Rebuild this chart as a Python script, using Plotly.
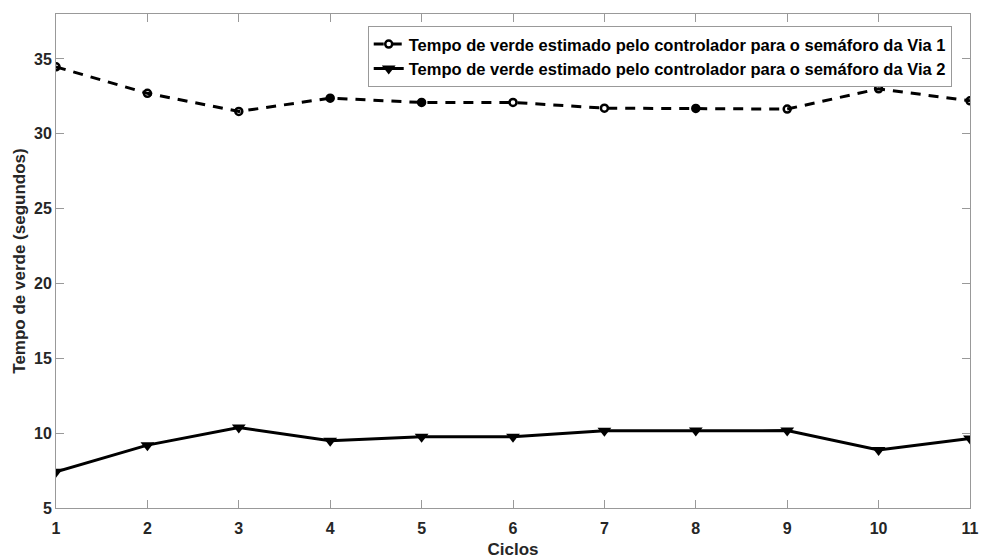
import plotly.graph_objects as go

ciclos = [1, 2, 3, 4, 5, 6, 7, 8, 9, 10, 11]
via1 = [34.47, 32.7, 31.49, 32.38, 32.09, 32.09, 31.71, 31.69, 31.65, 33.0, 32.2]
via2 = [7.42, 9.2, 10.38, 9.49, 9.76, 9.76, 10.16, 10.17, 10.17, 8.87, 9.65]
nome1 = "Tempo de verde estimado pelo controlador para o semáforo da Via 1"
nome2 = "Tempo de verde estimado pelo controlador para o semáforo da Via 2"

sym1 = ["circle-open", "circle-open", "circle-open", "circle", "circle", "circle-open",
        "circle-open", "circle", "circle-open", "circle-open", "circle-open"]

fig = go.Figure()
fig.add_trace(go.Scatter(
    x=ciclos, y=via1, name=nome1, mode="lines+markers",
    line=dict(color="black", width=3, dash="10px,8px"),
    marker=dict(symbol=sym1, size=7, color="black", line=dict(color="black", width=2.5)),
))
fig.add_trace(go.Scatter(
    x=ciclos, y=via2, name=nome2, mode="lines+markers",
    line=dict(color="black", width=3),
    marker=dict(symbol="triangle-down", size=12, color="black"),
))

axis_common = dict(
    showgrid=False, zeroline=False, showline=True, linecolor="#999999", linewidth=1,
    mirror="ticks", ticks="inside", ticklen=8, tickcolor="#999999", automargin=False,
    tickfont=dict(family="Liberation Sans, Arial, sans-serif", size=16, color="#262626", weight="bold"),
)

fig.update_layout(
    width=983, height=559,
    margin=dict(l=56, r=13, t=14, b=51),
    plot_bgcolor="white", paper_bgcolor="white",
    font=dict(family="Liberation Sans, Arial, sans-serif", color="#262626"),
    xaxis=dict(range=[1, 11], tickvals=ciclos, ticklabelstandoff=6, **axis_common,
               title=dict(text="<b>Ciclos</b>", font=dict(size=17, color="#262626"), standoff=6)),
    yaxis=dict(range=[5, 38], tickvals=[5, 10, 15, 20, 25, 30, 35], **axis_common,
               title=dict(text="<b>Tempo de verde (segundos)</b>", font=dict(size=17, color="#262626"), standoff=4)),
    legend=dict(
        x=0.98, y=0.976, xanchor="right", yanchor="top",
        bgcolor="white", bordercolor="#999999", borderwidth=1,
        font=dict(size=16.5, color="black", weight="bold"),
        tracegroupgap=0, itemwidth=30,
    ),
    showlegend=True,
)

fig.write_html("out.html")
